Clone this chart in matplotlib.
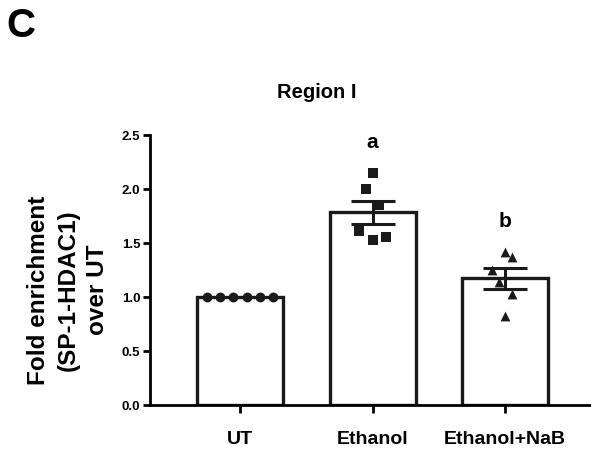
import matplotlib
matplotlib.use("Agg")
import matplotlib.pyplot as plt
import numpy as np

plt.rcParams['font.family'] = ['Liberation Sans', 'DejaVu Sans']
plt.rcParams['font.weight'] = 'bold'

# data
groups = ["UT", "Ethanol", "Ethanol+NaB"]
ut_pts = [1.0, 1.0, 1.0, 1.0, 1.0, 1.0]
eth_pts = [2.15, 2.0, 1.85, 1.61, 1.53, 1.56]
nab_pts = [1.42, 1.37, 1.25, 1.14, 1.03, 0.82]
sem = [0.0, 0.11, 0.095]
letters = ["", "a", "b"]

# x jitter of points inside each bar
ut_dx = [-0.25, -0.15, -0.05, 0.05, 0.15, 0.25]
eth_dx = [0.0, -0.05, 0.05, -0.1, 0.0, 0.1]
nab_dx = [0.0, 0.05, -0.1, -0.05, 0.05, 0.0]

fig = plt.figure(figsize=(5.91, 4.52), dpi=100)
ax = fig.add_axes([150/591, 1-406/452, 440/591, 270/452])

pts = [ut_pts, eth_pts, nab_pts]
dxs = [ut_dx, eth_dx, nab_dx]
markers = ["o", "s", "^"]
means = [np.mean(p) for p in pts]
x = np.arange(len(groups))

ax.bar(x, means, width=0.65, color="white", edgecolor="#1a1a1a", linewidth=2.4, zorder=1)
for i in range(len(groups)):
    ax.scatter(x[i] + np.array(dxs[i]), pts[i], marker=markers[i], s=50,
               color="#1a1a1a", zorder=3, linewidths=0)
    if sem[i] > 0:
        ax.errorbar(x[i], means[i], yerr=sem[i], fmt="none", ecolor="#1a1a1a",
                    elinewidth=2.2, capsize=16, capthick=2.2, zorder=4)
    if letters[i]:
        ax.text(x[i], max(pts[i]) + 0.2, letters[i], ha="center", va="bottom",
                fontsize=15, fontweight="bold")

ax.set_xlim(-0.68, 2.64)
ax.set_ylim(0, 2.5)
ax.set_yticks([0.0, 0.5, 1.0, 1.5, 2.0, 2.5])
ax.set_yticklabels(["0.0", "0.5", "1.0", "1.5", "2.0", "2.5"], fontsize=9.5, fontweight="bold")
ax.set_xticks(x)
ax.set_xticklabels(groups, fontsize=14, fontweight="bold")
ax.spines["top"].set_visible(False)
ax.spines["right"].set_visible(False)
ax.spines["left"].set_linewidth(2)
ax.spines["bottom"].set_linewidth(2)
ax.tick_params(axis="y", width=2, length=5, pad=2)
ax.tick_params(axis="x", width=2, length=6, pad=12)

# y label placed by hand (it sits lower than the axes centre)
fig.text(68/591, 1-290/452, "Fold enrichment\n(SP-1-HDAC1)\nover UT", rotation=90,
         ha="center", va="center", multialignment="center",
         fontsize=17.5, fontweight="bold", linespacing=1.35)

fig.text(317/591, 1-92/452, "Region I", ha="center", va="center", fontsize=14.5, fontweight="bold")
fig.text(6/591, 1-26/452, "C", ha="left", va="center", fontsize=29, fontweight="bold")

fig.savefig("out.png", dpi=100)
